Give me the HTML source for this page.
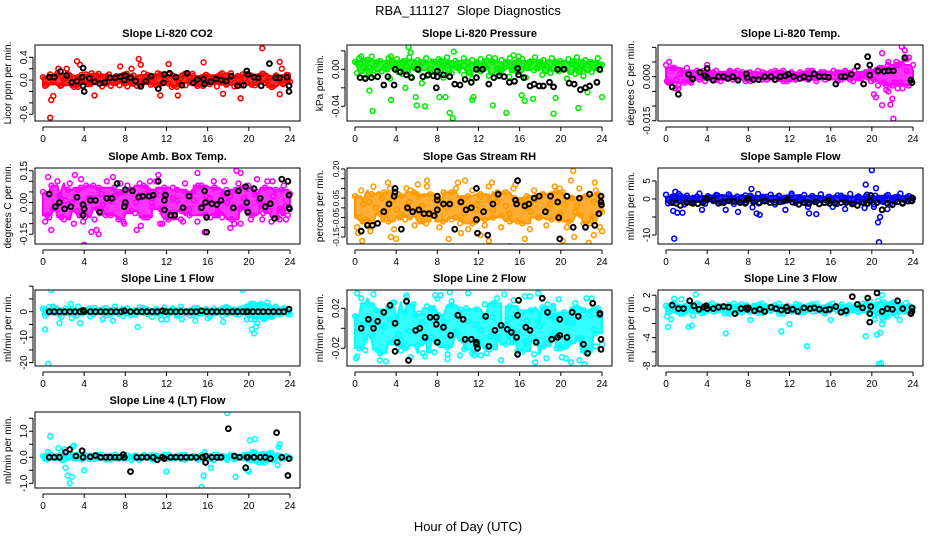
<!DOCTYPE html>
<html><head><meta charset="utf-8"><style>
html,body{margin:0;padding:0;background:#fff}
svg{display:block;font-family:"Liberation Sans",sans-serif}
</style></head><body>
<svg id="chart" width="936" height="540" viewBox="0 0 936 540" xmlns="http://www.w3.org/2000/svg">
<rect x="0" y="0" width="936" height="540" fill="#fff"/>
<text x="468" y="15" text-anchor="middle" font-size="13" xml:space="preserve">RBA_111127  Slope Diagnostics</text>
<text x="468" y="531" text-anchor="middle" font-size="13">Hour of Day (UTC)</text>
</svg>
<script>
const xTicks=[0,4,8,12,16,20,24];
// CO2
const co2A=[0.05,-0.08,0.1,-0.03,0.08,-0.1,0.02,0.11,-0.06,0.04,-0.12,0.09,0.0,-0.07,0.12,-0.02,0.06,-0.11,0.03,0.1,-0.05,0.07,-0.09,0.01,0.11,-0.04,0.08,-0.1,0.05,-0.01,0.09,-0.08,0.03,0.12,-0.06,0.0,0.1,-0.12,0.04,-0.03,0.08,-0.09,0.06,0.11,-0.07,0.02,-0.1,0.09,-0.02,0.05,-0.11,0.1,0.01,-0.06,0.12,-0.04,0.07,-0.09,0.03,0.1,-0.08,0.06,-0.01,0.11,-0.05,0.04,-0.12,0.08,0.0,-0.07,0.09,-0.03];
const co2B=[-0.1,0.06,-0.04,0.12,-0.09,0.03,0.08,-0.12,0.05,-0.02,0.1,-0.07,0.02,0.11,-0.05,0.07,-0.1,0.04,-0.01,0.09,-0.11,0.06,0.0,-0.08,0.12,-0.03,0.05,-0.09,0.1,0.01,-0.06,0.08,-0.12,0.03,0.11,-0.04,0.07,-0.1,0.02,0.09,-0.07,0.04,-0.02,0.12,-0.08,0.06,-0.11,0.01,0.1,-0.05,0.08,-0.09,0.03,0.11,-0.01,-0.12,0.07,0.02,-0.06,0.09];
const co2Out=[[0.7,-0.66],[0.8,-0.35],[1,-0.28],[3.3,0.33],[3.6,0.27],[9.3,0.37],[9.5,0.27],[12.2,0.28],[15.6,0.31],[19.2,-0.32],[21.3,0.56],[23,0.32],[23.2,0.2],[5,-0.27],[11.4,-0.27],[13.1,-0.27],[1.5,0.2],[2.3,0.2],[7.5,0.24],[8.6,0.2],[17.5,-0.24],[23,-0.25]];
const co2Black=[[0.6,0.05],[1.1,0.05],[1.7,0.15],[2.3,0.08],[2.8,-0.04],[3.3,-0.02],[3.8,0.05],[3.9,0.21],[3.9,-0.1],[4.0,-0.2],[4.5,0.03],[5.0,-0.03],[5.5,-0.06],[6.0,-0.04],[6.5,0.04],[7.0,0.04],[7.5,0.06],[7.9,0.0],[8.0,0.08],[8.5,0.04],[9.0,-0.02],[9.5,-0.11],[10.0,-0.02],[10.5,0.07],[11.2,-0.15],[11.7,-0.05],[11.8,0.1],[12.3,0.12],[12.9,0.05],[13.5,-0.09],[14.0,0.12],[14.6,-0.05],[15.0,0.01],[15.6,0.02],[15.7,-0.07],[16.3,-0.03],[16.8,0.02],[17.3,0.0],[17.8,-0.02],[18.3,0.07],[18.9,-0.1],[19.5,-0.09],[19.8,0.16],[19.9,0.1],[20.5,0.05],[20.9,0.04],[21.2,-0.1],[22.0,0.29],[22.6,0.04],[23.0,0.04],[23.7,0.05],[23.9,-0.1],[23.9,-0.2]];
// Pressure
const presA=[0.008,0.012,0.003,0.01,0.014,0.005,0.009,0.001,0.012,0.006,0.011,0.002,0.009,0.013,0.004,0.01,0.007,0.012,0.001,0.008,0.011,0.004,0.013,0.006,0.009,0.002,0.012,0.007,0.01,0.003,0.011,0.005,0.013,0.008,0.001,0.01,0.006,0.012,0.004,0.009,0.011,0.002,0.008,0.013,0.005,0.01,0.003,0.012,0.007,0.009,0.001,0.011,0.006,0.013,0.004,0.01,0.008,0.002,0.012,0.005];
const presB=[-0.004,0.006,-0.009,0.002,-0.006,0.008,-0.002,0.004,-0.01,0.001,0.007,-0.005,0.003,-0.008,0.005,-0.001,0.008,-0.007,0.0,-0.003,0.006,-0.009,0.004,-0.004,0.002,0.007,-0.006,0.001,-0.01,0.005,-0.002,0.003,-0.007,0.008,-0.005,0.0,0.006,-0.008,0.002,-0.003,0.005,-0.009,0.007,-0.001,0.003,-0.006,0.004,-0.004,0.008,-0.002,0.001,-0.01,0.006,-0.005,0.002,-0.007,0.005,-0.003,0.007,-0.001];
const presOut=[[9.5,-0.053],[9.2,-0.047],[1.7,-0.045],[19.3,-0.048],[14.7,-0.047],[6,-0.039],[6.8,-0.04],[13.4,-0.039],[21.7,-0.042],[5.9,-0.03],[8.2,-0.03],[8.8,-0.03],[11.4,-0.033],[11.5,-0.03],[16.5,-0.034],[17.3,-0.032],[19.5,-0.031],[24,-0.03],[3.5,-0.033],[1.4,-0.023],[22.6,-0.025],[16.2,-0.028],[5.2,0.024],[5.4,0.018],[9.6,0.019],[15.4,0.015],[15.9,0.014],[4.9,-0.02],[6.5,-0.015],[0.6,0.014],[3.5,0.014],[13.6,0.012]];
const presBlack=[[0.5,-0.009],[1,-0.01],[1.6,-0.009],[2.2,-0.008],[2.8,-0.017],[3.2,-0.008],[3.8,-0.017],[3.9,0.0],[4.4,-0.003],[5,-0.006],[5.5,-0.009],[6.1,0.0],[6.6,-0.008],[7.1,-0.006],[7.6,-0.007],[7.9,-0.02],[8,-0.002],[8,-0.008],[8.6,-0.006],[9.2,-0.008],[9.7,-0.016],[10.2,-0.017],[10.7,-0.011],[11.3,-0.014],[11.8,0.0],[11.8,-0.009],[12.4,0.0],[13,-0.016],[13.5,-0.009],[14,-0.007],[14.5,-0.008],[15,-0.014],[15.5,-0.013],[15.8,0.001],[15.9,-0.006],[16.4,-0.009],[17,-0.018],[17.4,-0.016],[17.9,-0.018],[18.3,-0.018],[18.9,-0.014],[19.3,-0.019],[19.7,0.0],[20.3,0.0],[20.8,-0.015],[21.3,-0.016],[21.9,-0.022],[22.4,-0.02],[22.8,-0.018],[23.5,-0.014],[23.8,0.0]];
// Li-820 Temp
const tempA=[0.004,-0.002,0.003,-0.003,0.002,0.003,-0.002,0.001,-0.001,0.002,0.0015,-0.001,0.002,-0.0015,0.001,0.0015,-0.001,0.002,0.0005,-0.0015,0.0015,-0.0005,0.002,-0.001,0.001,0.0015,-0.001,0.0005,0.002,-0.0015,0.001,-0.0005,0.0015,0.001,-0.001,0.002,-0.0005,0.0015,-0.001,0.001,0.002,-0.0015,0.0005,0.0015,-0.001,0.002,-0.0005,0.001,0.0015,-0.0015,0.002,0.003,-0.002,0.004,-0.003,0.005,-0.002,0.006,-0.003,0.004];
const tempB=[-0.002,0.003,-0.001,0.001,-0.002,0.0015,-0.0005,0.002,0.001,-0.0015,0.0005,0.0015,-0.001,0.001,-0.0005,0.002,0.0,-0.001,0.0015,0.0005,-0.0015,0.001,0.0,0.0015,-0.001,0.0005,0.002,-0.0005,-0.0015,0.001,0.0015,-0.001,0.0005,-0.0005,0.002,0.0,-0.0015,0.001,0.0015,-0.0005,0.0,0.0015,-0.001,0.002,0.0005,-0.0015,0.001,-0.0005,0.0015,0.002,-0.001,0.0015,0.003,-0.003,0.002,-0.002,0.004,-0.004,0.002,-0.001];
const tempOut=[[0.1,-0.0015],[0.9,-0.004],[1.2,-0.004],[2.3,-0.0015],[7,-0.0012],[20.2,-0.006],[20.4,-0.007],[21,-0.0097],[21.4,-0.0045],[21.6,-0.005],[21.8,-0.0095],[22,-0.0075],[22.1,-0.0143],[22.5,-0.004],[21,0.008],[22.9,0.0102],[23.2,0.009],[23.4,0.006],[23.6,0.0065],[21.6,0.005],[22.4,0.004],[0.3,0.005],[4,0.004],[20.6,-0.003]];
const tempBlack=[[0.6,-0.0035],[1.2,-0.006],[2.2,0.0008],[2.6,-0.0008],[3.3,0.0015],[3.8,0.0003],[4,0.0028],[4,-0.0003],[4.6,-0.0012],[5.1,0],[5.6,0],[6.0,-0.0006],[6.5,0],[7,-0.0012],[7.8,0.001],[7.9,-0.0003],[8.5,-0.001],[9,-0.001],[9.6,0],[10.2,0],[10.6,-0.001],[11.1,0],[11.6,0.0003],[11.9,0.0008],[12.4,0],[13,-0.0006],[13.4,0],[13.9,-0.0005],[14.4,0.001],[14.9,0],[15.4,0],[15.8,-0.0002],[16.5,-0.0025],[17,0],[17.4,0],[18,0.0008],[18.6,0.0035],[19.2,-0.0025],[19.6,0.0068],[19.8,0.004],[19.8,0.0005],[20.6,0.002],[21.2,0.0018],[21.6,0.002],[22.1,0.002],[23.2,0.0065],[23.8,-0.0012],[23.9,-0.002]];
// Amb Box Temp
const ambA=[0.05,-0.06,0.08,-0.02,0.03,-0.08,0.06,0.0,-0.04,0.07,-0.07,0.02,0.08,-0.03,0.04,-0.06,0.01,0.07,-0.08,0.05,-0.01,0.06,-0.05,0.03,0.08,-0.07,0.0,0.04,-0.03,0.07,-0.08,0.02,0.06,-0.04,0.05,-0.06,0.01,0.08,-0.02,0.03,-0.07,0.07,-0.05,0.04,0.0,-0.08,0.06,-0.03,0.02,0.08,-0.06,0.05,-0.01,0.07,-0.04,0.03,-0.07,0.06,-0.02,0.04];
const ambB=[-0.09,0.04,-0.03,0.1,-0.07,0.01,0.09,-0.1,0.06,-0.05,0.08,0.02,-0.08,0.07,-0.01,0.1,-0.06,0.03,0.05,-0.09,0.08,-0.04,0.0,0.09,-0.07,0.06,-0.02,0.1,-0.1,0.04,-0.05,0.07,0.01,-0.08,0.09,-0.03,0.05,-0.09,0.08,-0.06,0.02,0.1,-0.04,-0.07,0.06,0.03,-0.1,0.09,-0.02,0.07,-0.08,0.04,0.01,-0.05,0.1,-0.09,0.06,-0.03,0.08,-0.06];
const ambOut=[[0.5,0.12],[0.8,-0.13],[0.6,-0.07],[3.1,0.13],[3.7,0.11],[4,-0.2],[3.9,-0.09],[4.7,-0.14],[5.2,-0.13],[5.4,-0.15],[6.8,0.12],[7.5,0.09],[7.9,-0.1],[9.1,-0.13],[9.5,-0.11],[10.4,0.1],[11.2,0.13],[11.6,-0.1],[13.6,-0.09],[15,0.14],[15.7,-0.14],[17.6,0.1],[18.2,-0.12],[18.8,0.15],[19.2,0.14],[19.2,-0.1],[20.8,0.11],[21.3,-0.08],[22.3,0.1],[23,-0.08],[23.6,-0.08]];
const ambBlack=[[0.6,0.04],[1.2,-0.02],[1.6,0.0],[2.1,-0.03],[2.7,-0.02],[3.3,0.025],[3.9,-0.01],[3.9,-0.06],[4.0,-0.03],[4.6,0.01],[5.1,0.01],[5.5,-0.045],[6.2,0.02],[6.7,0.02],[7.2,0.09],[7.9,-0.02],[8,0.06],[8,0.0],[8.7,0.055],[9.3,0.025],[9.7,0.03],[10.3,0.03],[10.7,0.035],[11.2,0.1],[11.8,-0.035],[11.8,0.01],[11.9,0.035],[12.4,-0.06],[12.8,-0.06],[13.6,-0.025],[14.2,0.03],[15.4,-0.025],[15.7,0.055],[15.9,-0.07],[15.8,0.0],[15.9,-0.14],[16.4,-0.005],[16.9,-0.01],[17.3,0.01],[17.9,0.045],[18.5,-0.025],[19,0.055],[19.7,0.075],[19.8,0.0],[19.9,-0.045],[20.5,0.065],[21.1,0.02],[21.6,-0.02],[22.1,-0.005],[22.5,-0.075],[23.2,0.11],[23.8,0.1],[23.9,0.035],[23.9,-0.025],[23.95,-0.03]];
// Gas Stream RH
const rhA=[0.06,-0.05,0.02,-0.08,0.07,0.0,-0.03,0.08,-0.07,0.04,-0.01,0.06,-0.06,0.03,0.08,-0.04,0.01,-0.08,0.07,-0.02,0.05,-0.07,0.0,0.08,-0.05,0.03,-0.03,0.06,-0.08,0.02,0.07,-0.06,0.04,-0.01,0.08,-0.04,0.01,-0.07,0.05,0.03,-0.08,0.06,-0.02,0.04,-0.05,0.07,0.0,-0.06,0.08,-0.03,0.02,-0.07,0.05,0.01,-0.04,0.06,-0.08,0.03,0.07,-0.02];
const rhB=[-0.1,0.09,-0.06,0.03,0.11,-0.08,0.05,-0.02,0.1,-0.11,0.07,-0.04,0.01,0.09,-0.09,0.06,-0.07,0.11,-0.03,0.04,-0.1,0.08,0.02,-0.06,0.1,-0.08,0.05,-0.11,0.09,-0.01,0.06,-0.09,0.11,-0.05,0.03,-0.1,0.08,-0.03,0.1,-0.07,0.04,0.0,-0.11,0.09,-0.05,0.07,-0.09,0.02,0.11,-0.06,0.08,-0.1,0.05,-0.02,0.1,-0.08,0.06,-0.04,0.09,-0.1];
const rhOut=[[0.3,-0.13],[0.7,-0.17],[1.5,-0.12],[3.2,0.13],[3.5,-0.15],[4,-0.16],[5,0.1],[6.1,0.12],[7,0.14],[9.1,-0.16],[10,0.13],[10.7,0.14],[10.3,-0.13],[12.2,-0.14],[13,-0.17],[13.3,0.13],[15.6,0.12],[16.5,-0.16],[19.9,0.1],[20.2,-0.17],[21,0.14],[21.3,-0.15],[21.2,0.19],[22.7,-0.18],[23.3,0.13],[23.2,-0.14],[24,-0.12]];
const rhBlack=[[0.6,-0.12],[1.2,-0.09],[1.7,-0.09],[2.2,-0.08],[2.8,-0.02],[3.3,0.02],[3.8,0.06],[3.9,0.1],[3.9,0.08],[4.5,-0.11],[5.1,0.0],[5.6,-0.02],[6.2,-0.01],[6.7,-0.03],[7.2,-0.03],[7.7,-0.04],[8,0.04],[8,0.06],[8,-0.01],[8.6,0.02],[9.2,0.02],[9.7,-0.11],[10.3,0.03],[10.8,-0.01],[11.3,0.0],[11.8,0.1],[11.8,-0.06],[11.9,-0.13],[12.5,-0.02],[12.9,-0.14],[13.4,0.02],[13.9,0.07],[15,-0.2],[15.6,0.04],[15.7,0.02],[15.8,0.14],[16.5,0.01],[16.9,0.02],[17.4,0.05],[17.9,0.06],[18.5,-0.02],[19,0.06],[19.7,0.03],[19.8,-0.05],[19.9,-0.16],[20.6,0.06],[21.2,-0.1],[21.8,0.05],[22.4,-0.1],[22.8,0.07],[23.3,-0.09],[23.7,-0.03],[23.9,0.06],[23.9,0.03],[23.95,0.015]];
// Sample Flow
const sfA=[1.2,-0.8,0.5,1.4,-0.3,0.9,-1,0.2,1.5,-0.6,0.8,0.0,1.1,-0.9,0.4,1.3,-0.2,0.7,-0.7,1.0,0.3,-0.5,1.4,-0.1,0.6,1.2,-0.8,0.9,0.1,-0.4,1.5,-0.6,0.5,1.1,-0.9,0.8,0.2,1.3,-0.3,0.6,-0.7,1.0,0.4,-0.2,1.4,-1,0.7,0.0,1.2,-0.5,0.9,0.3,-0.8,1.1,-0.1,0.6,1.5,-0.4,0.8,0.2];
const sfB=[-1.2,0.6,-0.4,0.9,-1.5,0.2,-0.8,0.7,-0.1,-1.3,0.4,-0.6,1.0,-1.0,0.1,0.8,-1.4,-0.3,0.5,-0.9,0.9,-0.2,-1.2,0.6,-0.5,0.3,-1.5,0.7,-0.7,0.0,1.0,-1.1,0.4,-0.4,-1.3,0.8,-0.8,0.2,-1.0,0.6,-0.3,-1.4,0.9,-0.6,0.1,-1.1,0.5,-0.9,0.7,-0.2,-1.5,0.3,-0.7,0.8,-1.2,0.0,0.5,-1.0,0.4,-0.5];
const sfOut=[[0.7,-3.3],[0.8,-11],[0.9,2],[1.1,-3.8],[1.6,-3.8],[3.5,-3],[5.8,-3],[7,-3.6],[8.3,2.8],[8.4,-2.3],[8.8,-4],[9.1,-4.4],[11.6,-3],[13.9,-4],[14.6,-4.2],[13.8,-2.2],[16.2,-2.2],[17.4,-2.8],[19.4,4],[19.3,-2.5],[20,8],[20.4,3],[20.6,-6.5],[20.8,-5],[20.7,-12],[21.5,-2.8],[20.2,-2.2]];
const sfBlack=[[0.6,-1],[1,-1.2],[1.4,-1.8],[2,-1],[2.6,-1.2],[3.1,-1.3],[3.6,-1],[3.9,0.2],[4,-0.2],[4.6,-0.3],[5.1,-1.2],[5.6,-1],[6.1,-0.5],[6.6,-0.7],[7.2,-1],[7.7,-1.2],[7.9,-0.3],[8,0],[8.5,-0.8],[9.1,-1],[9.6,-0.6],[10.1,-1],[10.6,-0.9],[11.1,-0.8],[11.6,-0.4],[11.8,0],[12.3,-0.9],[12.9,-1.5],[13.4,-1],[13.9,-1.2],[14.5,-0.8],[14.9,-1.4],[15.4,-1],[15.8,-0.5],[15.9,-1.2],[16.4,-1.2],[17,-1],[17.5,-1],[18.1,-1.4],[18.6,-1.8],[19.2,-1],[19.6,-1.2],[19.8,-0.5],[19.9,1],[20.5,-1],[21,-3],[21.5,-1.2],[22,-1.6],[22.5,-0.8],[23,-1.2],[23.5,-0.6],[23.9,0.3],[23.9,-0.5]];
// Line 1 Flow
const l1A=[1.2,-0.8,0.5,1.5,-1.3,0.2,-0.5,1.0,-1.5,0.7,0.0,1.3,-1.0,0.4,-0.2,1.4,-1.2,0.8,-0.6,1.1,0.3,-1.4,0.6,-0.1,1.5,-0.9,0.2,1.0,-1.3,0.5,-0.4,1.2,-1.1,0.7,0.1,-1.5,1.3,-0.7,0.4,1.0,-1.2,0.3,-0.3,1.4,-0.8,0.6,-1.0,1.1,0.0,-1.4,2.5,-2,3,-2.5,2,-1.5,1.2,-0.6,0.9,-1.1];
const l1B=[-1.5,1.8,-0.4,0.9,-2,1.2,0.3,-1.1,2.0,-0.7,0.6,-1.8,1.5,-0.2,1.0,-1.4,0.4,2.0,-0.9,-1.7,1.3,0.1,-1.2,1.7,-0.5,0.8,-2,1.1,-0.3,1.6,-1.0,0.5,-1.6,1.9,-0.6,0.2,-1.3,1.4,-0.8,0.7,-1.9,1.2,0.0,-1.5,1.8,-0.4,0.9,-1.1,1.5,-0.7,3,-3,2.5,-2.5,3.5,-2,2,-1,1.4,-0.9];
const l1Out=[[0.2,-7],[0.5,-20.5],[0.8,8.5],[1,2],[1.6,-4.5],[2.7,3],[2.8,-2.5],[3.6,-4.5],[5.8,-3],[6.8,-3.5],[9.2,-6],[11.5,-3],[12,-3],[13.5,-3],[14.8,-3.5],[16,-2.5],[17.5,-4],[18,1.5],[19.4,8.5],[19.8,2],[20.1,2.5],[20.3,-7],[20.5,-8.5],[20.5,3],[20.7,-6],[20.8,-4.5],[20.9,2],[21.5,-3],[19.8,-3],[20.2,-3]];
const l1Black=[[0.6,0],[1.1,0],[1.6,0],[2.1,0],[2.6,0],[3.1,0],[3.6,0],[3.9,0.5],[4,0],[4.6,0],[5.1,0],[5.6,0],[6.1,0],[6.6,0],[7.1,0],[7.6,0],[7.9,0.3],[8.5,0],[9.1,0],[9.6,0],[10.1,0],[10.6,0],[11.1,0],[11.6,0.3],[11.9,0],[12.4,0],[12.9,0],[13.4,0],[13.9,0],[14.4,0],[14.9,0],[15.4,0.3],[15.9,0],[16.4,0],[16.9,0],[17.4,0],[17.9,0],[18.4,0],[18.9,0],[19.4,0],[19.8,0],[19.9,0],[20.4,0],[20.9,0],[21.4,0],[21.9,0],[22.4,0],[22.9,0],[23.4,0],[23.9,1]];
// Line 2 Flow
const l2A=[0.012,-0.02,0.004,0.025,-0.008,0.018,-0.025,0.001,0.021,-0.014,0.009,-0.022,0.016,-0.003,0.024,-0.017,0.006,-0.011,0.02,-0.024,0.013,0.0,-0.019,0.023,-0.006,0.015,-0.013,0.007,-0.025,0.019,-0.002,0.011,-0.021,0.025,-0.009,0.003,-0.016,0.022,-0.004,0.014,-0.023,0.008,0.018,-0.012,0.002,-0.018,0.024,-0.007,0.01,-0.02,0.016,-0.015,0.005,0.021,-0.01,-0.024,0.013,-0.001,0.02,-0.016];
const l2B=[-0.028,0.03,-0.012,0.005,0.034,-0.022,0.017,-0.033,0.009,0.026,-0.006,-0.018,0.031,-0.029,0.014,0.001,-0.025,0.022,-0.009,0.033,-0.015,0.007,-0.031,0.027,-0.003,0.019,-0.021,0.035,-0.011,0.004,-0.027,0.024,-0.017,0.011,0.03,-0.032,0.002,-0.007,0.028,-0.023,0.016,-0.013,0.032,-0.026,0.008,0.021,-0.03,0.013,-0.004,0.029,-0.019,0.006,-0.034,0.025,-0.01,0.018,-0.024,0.03,-0.005,0.015];
const l2Out=[[0.1,-0.03],[0.2,0.035],[1,-0.022],[2.4,-0.032],[3.6,0.025],[5,0.033],[6.8,-0.028],[7.5,0.02],[8,0.03],[8.3,0.033],[9,-0.026],[9.2,0.036],[10.2,-0.027],[11.6,-0.027],[12.8,-0.025],[14.5,0.034],[16.5,0.032],[17.5,-0.034],[17.8,0.035],[19.6,-0.02],[20.1,-0.029],[20.5,-0.03],[21.8,-0.032],[22.3,-0.036],[22.5,0.03],[1.5,0.008],[4.5,-0.012],[6.2,0.015],[10.8,0.02],[13.2,-0.008],[15.1,0.01],[18.6,-0.015],[21.2,0.005],[23.4,-0.018]];
const l2Black=[[0.6,0],[1.3,0.009],[1.8,0],[2.2,0.007],[2.8,0.016],[3.4,0.023],[3.9,0.005],[3.9,-0.023],[4.1,-0.014],[5,0.027],[5.2,-0.032],[5.9,-0.002],[6.3,0],[6.8,-0.009],[7.3,0.011],[7.9,0.011],[7.9,0.004],[8,-0.014],[8.6,0.001],[9.3,-0.007],[10,0.013],[10.5,0.009],[10.7,-0.011],[11.3,-0.011],[11.8,-0.014],[11.8,-0.016],[11.9,-0.02],[12.7,0.012],[13,-0.018],[13.6,-0.002],[14.2,0.003],[14.8,-0.001],[15.2,-0.004],[15.7,-0.009],[15.8,-0.026],[15.8,0.013],[15.9,0.028],[16.6,0.001],[17,-0.002],[17.6,-0.014],[18.2,0.03],[18.7,0.016],[19.1,-0.011],[19.7,-0.009],[19.9,-0.007],[19.9,0.009],[20.6,-0.009],[21.1,0.016],[21.7,0.012],[22.2,-0.016],[22.6,-0.025],[23.1,0.025],[23.8,0.014],[23.8,0.015],[23.9,-0.011],[23.9,-0.021]];
// Line 3 Flow
const l3A=[0.5,-0.3,0.8,0.1,-0.6,0.6,-0.1,0.3,0.7,-0.5,0.2,0.8,-0.2,0.4,-0.6,0.6,0.0,-0.4,0.7,0.2,-0.3,0.5,-0.5,0.8,0.1,-0.2,0.6,-0.6,0.3,0.4,-0.1,0.7,-0.4,0.2,0.5,-0.3,0.8,0.0,-0.5,0.6,0.3,-0.2,0.7,-0.6,0.1,0.4,-0.4,0.8,-0.1,0.2,0.6,-0.5,1.0,-1.0,0.8,-0.8,0.6,-0.3,0.5,0.2];
const l3B=[-0.4,0.7,0.0,-0.6,0.4,0.2,-0.2,0.8,-0.5,0.1,0.6,-0.3,0.5,-0.1,0.3,-0.6,0.8,0.0,-0.4,0.6,-0.2,0.2,0.7,-0.5,0.4,-0.1,0.1,0.8,-0.6,0.5,-0.3,0.3,0.6,-0.4,0.0,0.7,-0.2,0.2,-0.6,0.5,0.8,-0.1,0.4,-0.5,0.6,0.1,-0.3,0.3,0.7,-0.4,-0.8,1.2,-1.2,0.6,-0.6,1.0,-0.3,0.4,-0.2,0.3];
const l3Out=[[0.1,-1],[0.2,-2.5],[0.5,-1.4],[0.8,1.5],[1.5,1.4],[2.2,-2.5],[2.5,-2.3],[2.9,2.1],[2.6,-0.9],[5.8,-3.4],[8.2,-1.5],[11.2,-3.1],[12,-2.1],[13.7,-5.2],[16,-1.5],[19.4,-3.8],[20.5,-3.6],[20.7,-7.7],[20.9,-7.6],[20.8,-3.3],[21,-2.1],[21,2],[21.1,-1.5],[22,0.9],[22.7,-1.5],[23.3,0.9],[20.3,-1.4],[19.8,1.2]];
const l3Black=[[0.6,0.6],[1.2,0.1],[1.7,0.1],[2.3,1.2],[2.7,0.5],[3.2,0],[3.7,0.3],[3.9,0.5],[4,0.1],[4.6,0.1],[5.1,0.3],[5.6,0.4],[6.1,0.3],[6.7,-0.6],[7.3,0.1],[7.8,0.2],[7.9,0],[8,0.2],[8.6,-0.2],[9.1,0],[9.6,-0.3],[10.2,0.3],[10.7,0.1],[11.2,-0.1],[11.7,0.3],[11.8,-0.2],[12.3,0],[12.8,-0.3],[13.4,0.2],[14,0.1],[14.4,0.2],[14.9,0],[15.5,-0.1],[15.9,0],[16.5,0.4],[17,-0.4],[17.5,-0.2],[18.1,1.8],[18.6,0.7],[19.1,0.2],[19.6,1.6],[19.8,-0.6],[19.8,-1.8],[19.9,0.4],[20.5,2.3],[21,-0.3],[21.5,0.1],[22,0],[22.5,1.2],[23,0.1],[23.8,-0.6],[23.9,0.2],[23.9,-0.3]];
// Line 4 (LT) Flow
const l4A=[0.05,-0.08,0.1,-0.02,0.07,-0.1,0.03,0.09,-0.05,0.0,0.08,-0.07,0.04,-0.03,0.1,-0.09,0.06,0.01,-0.06,0.09,-0.04,0.02,0.07,-0.1,0.05,-0.01,0.08,-0.08,0.03,0.1,-0.05,0.0,0.06,-0.07,0.09,-0.02,0.04,-0.09,0.07,0.01,-0.06,0.1,-0.03,0.05,-0.1,0.08,-0.04,0.02,0.09,-0.08,0.2,-0.15,0.1,-0.2,0.15,-0.1,0.06,-0.05,0.04,-0.03];
const l4B=[-0.06,0.09,-0.01,0.05,-0.1,0.07,0.0,-0.04,0.1,-0.08,0.03,0.06,-0.07,0.08,-0.02,0.04,-0.09,0.1,0.01,-0.05,0.07,-0.1,0.05,-0.03,0.09,0.02,-0.08,0.06,-0.01,-0.06,0.1,-0.04,0.03,0.08,-0.09,0.0,0.05,-0.07,0.09,-0.02,0.04,-0.1,0.07,0.01,-0.05,0.08,-0.08,0.02,-0.03,0.1,-0.12,0.18,-0.2,0.12,-0.1,0.16,-0.06,0.05,-0.04,0.02];
const l4Out=[[0.2,0],[0.5,0.2],[0.7,0.8],[1.5,0.35],[2.1,0.3],[2.2,-0.4],[2.4,-0.7],[2.6,-1],[2.8,-0.75],[2.9,0.4],[3,0.45],[4,-0.5],[12,-0.55],[15.4,-1.15],[15.6,-0.7],[15.7,0.2],[16.3,-0.4],[17.9,1.7],[18.7,-0.75],[19.9,-0.5],[20,-0.55],[20.1,0.65],[20.6,0.7],[22.8,-0.3],[22.9,0.4],[23,0.5]];
const l4Black=[[0.6,0],[1.1,0],[1.6,0],[2.2,0.2],[2.6,0.3],[3.2,0.05],[3.8,0.25],[3.9,0],[4.6,0.02],[5.1,0.07],[5.6,0],[6.1,0],[6.5,0],[7,0],[7.4,0],[7.8,0.1],[7.9,0],[8.5,-0.55],[9.1,0],[9.6,0],[10.1,0],[10.7,0],[11.1,-0.1],[11.6,0],[11.8,-0.05],[12.4,0],[12.9,0],[13.4,0],[13.9,0],[14.4,0],[14.9,0],[15.5,0],[15.8,0.05],[15.8,-0.2],[16.4,0],[16.9,0],[17.3,0],[18,1.1],[18.6,0.05],[19.1,0],[19.7,-0.4],[19.8,0],[19.9,0],[20.5,0],[21.1,0],[21.6,0],[22.1,-0.05],[22.7,0.95],[23.2,0],[23.8,-0.7],[23.9,-0.05]];

const co2Ticks=[-0.6,-0.4,-0.2,0,0.2,0.4], co2Labels=["-0.6","","","0.0","","0.4"];
const presTicks=[-0.04,-0.02,0,0.02], presLabels=["-0.04","","0.00",""];
const tempTicks=[-0.015,-0.01,-0.005,0,0.005,0.01], tempLabels=["-0.015","","","0.000","",""];
const ambTicks=[-0.15,-0.1,-0.05,0,0.05,0.1,0.15], ambLabels=["-0.15","","","0.00","","","0.15"];
const rhTicks=[-0.15,-0.1,-0.05,0,0.05,0.1,0.15,0.2], rhLabels=["-0.15","","-0.05","","0.05","","","0.20"];
const sfTicks=[-10,-5,0,5], sfLabels=["-10","","0","5"];
const l1Ticks=[-20,-15,-10,-5,0,5,10], l1Labels=["-20","","-10","","0","",""];
const l2Ticks=[-0.02,0,0.02], l2Labels=["-0.02","","0.02"];
const l3Ticks=[-8,-6,-4,-2,0,2], l3Labels=["-8","","-4","","0","2"];
const l4Ticks=[-1,-0.5,0,0.5,1,1.5], l4Labels=["-1.0","","0.0","","1.0",""];

const NS="http://www.w3.org/2000/svg";
const svg=document.getElementById('chart');
function mk(tag,attrs,parent){const e=document.createElementNS(NS,tag);for(const k in attrs)e.setAttribute(k,attrs[k]);(parent||svg).appendChild(e);return e;}

const panels=[
 {key:'co2',title:'Slope Li-820 CO2',ylab:'Licor ppm per min.',col:0,row:0,ymin:-0.718,ymax:0.616,color:'#ff0000',A:co2A,B:co2B,out:co2Out,blk:co2Black,ticks:co2Ticks,labels:co2Labels,fs:10},
 {key:'pressure',title:'Slope Li-820 Pressure',ylab:'kPa per min.',col:1,row:0,ymin:-0.0559,ymax:0.0263,color:'#00ee00',A:presA,B:presB,out:presOut,blk:presBlack,ticks:presTicks,labels:presLabels,fs:10},
 {key:'temp',title:'Slope Li-820 Temp.',ylab:'degrees C per min.',col:2,row:0,ymin:-0.0151,ymax:0.0108,color:'#ff00ff',A:tempA,B:tempB,out:tempOut,blk:tempBlack,ticks:tempTicks,labels:tempLabels,fs:10},
 {key:'amb-box-temp',title:'Slope Amb. Box Temp.',ylab:'degrees C per min.',col:0,row:1,ymin:-0.196,ymax:0.163,color:'#ff00ff',A:ambA,B:ambB,out:ambOut,blk:ambBlack,ticks:ambTicks,labels:ambLabels,fs:10},
 {key:'gas-rh',title:'Slope Gas Stream RH',ylab:'percent per min.',col:1,row:1,ymin:-0.186,ymax:0.205,color:'#ff9a00',A:rhA,B:rhB,out:rhOut,blk:rhBlack,ticks:rhTicks,labels:rhLabels,fs:8.5},
 {key:'sample-flow',title:'Slope Sample Flow',ylab:'ml/min per min.',col:2,row:1,ymin:-12.5,ymax:8.6,color:'#0000ff',A:sfA,B:sfB,out:sfOut,blk:sfBlack,ticks:sfTicks,labels:sfLabels,fs:10},
 {key:'line1-flow',title:'Slope Line 1 Flow',ylab:'ml/min per min.',col:0,row:2,ymin:-21.3,ymax:8.5,color:'#00ffff',A:l1A,B:l1B,out:l1Out,blk:l1Black,ticks:l1Ticks,labels:l1Labels,fs:10},
 {key:'line2-flow',title:'Slope Line 2 Flow',ylab:'ml/min per min.',col:1,row:2,ymin:-0.0377,ymax:0.0383,color:'#00ffff',A:l2A,B:l2B,out:l2Out,blk:l2Black,ticks:l2Ticks,labels:l2Labels,fs:10},
 {key:'line3-flow',title:'Slope Line 3 Flow',ylab:'ml/min per min.',col:2,row:2,ymin:-8.0,ymax:2.73,color:'#00ffff',A:l3A,B:l3B,out:l3Out,blk:l3Black,ticks:l3Ticks,labels:l3Labels,fs:10},
 {key:'line4-flow',title:'Slope Line 4 (LT) Flow',ylab:'ml/min per min.',col:0,row:3,ymin:-1.18,ymax:1.74,color:'#00ffff',A:l4A,B:l4B,out:l4Out,blk:l4Black,ticks:l4Ticks,labels:l4Labels,fs:10}
];
const colLeft=[35,347,658], rowTop=[45,168,290,412], W=265, H=76;

panels.forEach(p=>{
  const L=colLeft[p.col], T=rowTop[p.row];
  const g=mk('g',{});
  
  
  const xs=h=>L+8+h/24*247;
  const ys=v=>T+H-(v-p.ymin)/(p.ymax-p.ymin)*H;
  const clip=mk('clipPath',{id:'c-'+p.key},g);
  mk('rect',{x:L,y:T,width:W,height:H},clip);
  const pts=mk('g',{'clip-path':'url(#c-'+p.key+')'},g);
  // combined band points
  const band=[];
  p.A.forEach((v,i)=>band.push([24*i/(p.A.length-1),v]));
  p.B.forEach((v,i)=>band.push([24*(i+0.5)/p.B.length,v]));
  band.sort((a,b)=>a[0]-b[0]);
  // dense envelope drawn from the band values (rolling 2nd-min / 2nd-max)
  const upper=[],lower=[];
  band.forEach((d,i)=>{
    const w=band.slice(Math.max(0,i-3),Math.min(band.length,i+4)).map(e=>e[1]).sort((a,b)=>a-b);
    lower.push([d[0],w[Math.min(1,w.length-1)]]);
    upper.push([d[0],w[Math.max(0,w.length-2)]]);
  });
  const poly=upper.map(d=>xs(d[0]).toFixed(1)+','+ys(d[1]).toFixed(1)).concat(lower.slice().reverse().map(d=>xs(d[0]).toFixed(1)+','+ys(d[1]).toFixed(1))).join(' ');
  const env=mk('polygon',{points:poly,fill:p.color,'fill-opacity':0.8,stroke:p.color,'stroke-width':2,'stroke-linejoin':'round'},pts);
  
  
  const dot=(h,v,col,sw,nm)=>{
    const c=mk('circle',{cx:xs(h).toFixed(1),cy:ys(v).toFixed(1),r:2.4,fill:'none',stroke:col,'stroke-width':sw},pts);
    
    
  };
  band.forEach(d=>dot(d[0],d[1],p.color,1.6,'colored-point'));
  p.out.forEach(d=>dot(d[0],d[1],p.color,1.6,'outlier-point'));
  p.blk.forEach(d=>dot(d[0],d[1],'#000',2,'black-point'));
  const box=mk('rect',{x:L,y:T,width:W,height:H,fill:'none',stroke:'#000','stroke-width':1},g);
  
  
  const t=mk('text',{x:L+W/2,y:T-8,'text-anchor':'middle','font-size':11,'font-weight':'bold'},g);
  t.textContent=p.title;
  
  
  const ay=T+H+6;
  const xa=mk('g',{},g);
  
  
  mk('line',{x1:xs(xTicks[0]),x2:xs(xTicks[xTicks.length-1]),y1:ay,y2:ay,stroke:'#000'},xa);
  xTicks.forEach(h=>{
    mk('line',{x1:xs(h),x2:xs(h),y1:ay,y2:ay+4,stroke:'#000'},xa);
    const tl=mk('text',{x:xs(h),y:ay+15,'text-anchor':'middle','font-size':10},xa);
    tl.textContent=h;
    
    
  });
  const ax=L-2;
  const ya=mk('g',{},g);
  
  
  mk('line',{x1:ax,x2:ax,y1:ys(p.ticks[0]),y2:ys(p.ticks[p.ticks.length-1]),stroke:'#000'},ya);
  p.ticks.forEach((v,i)=>{
    const y=ys(v);
    mk('line',{x1:ax,x2:ax-4,y1:y,y2:y,stroke:'#000'},ya);
    if(p.labels[i]){
      const tl=mk('text',{x:ax-6,y:y,'text-anchor':'middle','font-size':p.fs,transform:`rotate(-90 ${ax-6} ${y})`},ya);
      tl.textContent=p.labels[i];
      
      
    }
  });
  const yl=mk('text',{x:L-24,y:T+H/2,'text-anchor':'middle','font-size':10,transform:`rotate(-90 ${L-24} ${T+H/2})`},g);
  yl.textContent=p.ylab;
  
  
});
</script>
</body></html>
